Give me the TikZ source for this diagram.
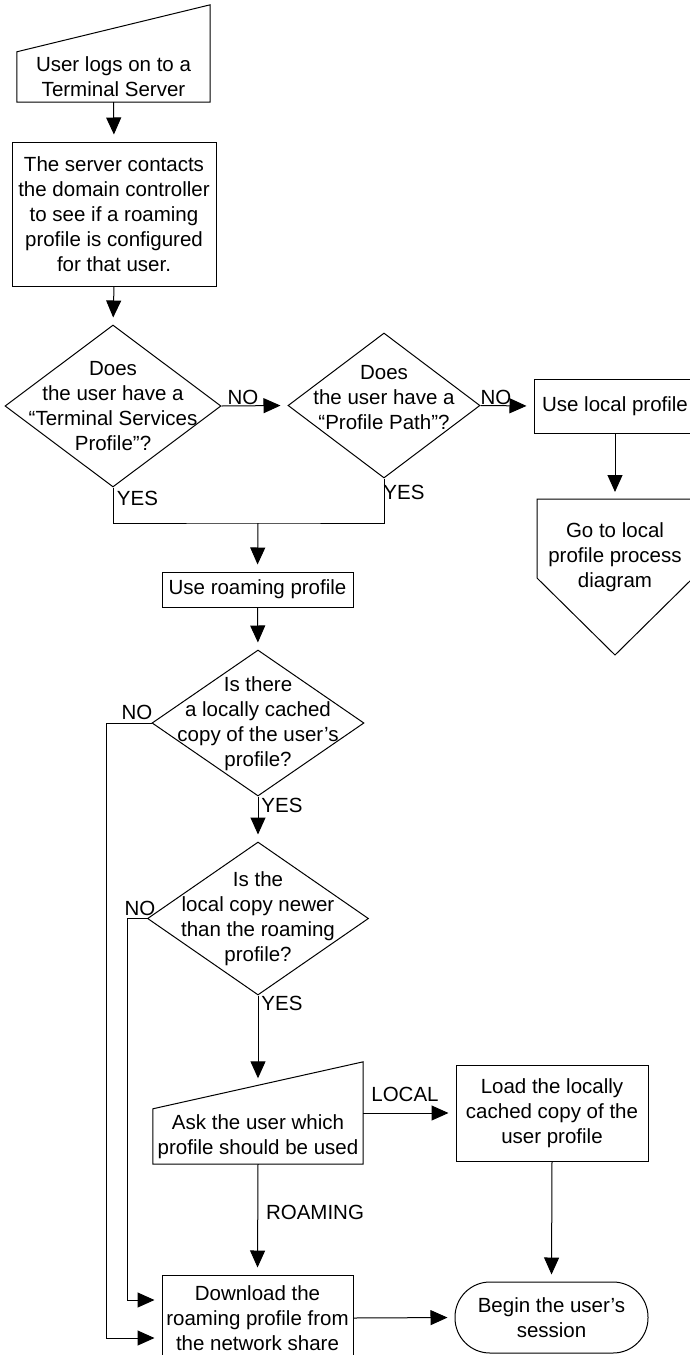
\documentclass[tikz,border=0pt]{standalone}
\usepackage{fontspec}
\setmainfont{Liberation Sans}
\usetikzlibrary{arrows.meta,shapes.geometric,calc}

\begin{document}
\begin{tikzpicture}[x=1pt,y=-1pt,
  every node/.style={font=\fontsize{20.5}{25}\selectfont, inner sep=0pt, align=center},
  box/.style={draw, rectangle, line width=1pt},
  decision/.style={draw, diamond, line width=1pt},
  terminal/.style={draw, rectangle, rounded corners=35pt, line width=1pt},
  outline/.style={draw, line width=1pt, line join=miter},
  flow/.style={line width=1pt, -{Triangle[length=17pt,width=15pt]}, shorten >=7pt},
  link/.style={line width=1pt},
  lbl/.style={}]

\useasboundingbox (0,0) rectangle (690,1355);
\clip (0,0) rectangle (690,1355);
\fill[white] (0,0) rectangle (690,1355);

% --- logon (manual input) and server check
\node[minimum width=193pt, minimum height=50pt] (logon) at (113.5,77) {User logs on to a\\Terminal Server};
\draw[outline] (logon.south west) -- (logon.south east) -- ($(logon.north east)+(0,-47)$) -- (logon.north west) -- cycle;

\node[box, minimum width=204pt, minimum height=144pt] (contact) at (114,214)
  {The server contacts\\the domain controller\\to see if a roaming\\profile is configured\\for that user.};

% --- profile decisions
\node[decision, minimum width=216pt, minimum height=162pt] (tsprof) at (113,406) {};
\node (tsproftext) at (113,406) {Does\\the user have a\\“Terminal Services\\Profile”?};

\node[decision, minimum width=192pt, minimum height=145pt] (ppath) at (384,405.5) {};
\node (ppathtext) at (384,398) {Does\\the user have a\\“Profile Path”?};

\node[box, minimum width=162pt, minimum height=54pt] (uselocal) at (615,406) {Use local profile};

% off-page connector
\node (gototext) at (615,557) {Go to local\\profile process\\diagram};
\coordinate (gotop) at (615,499);
\draw[outline] ($(gotop)+(-78,0)$) -- ($(gotop)+(78,0)$) -- ($(gotop)+(78,79)$)
  -- ($(gotop)+(0,156)$) -- ($(gotop)+(-78,79)$) -- cycle;

\coordinate (merge) at (258,523);
\node[box, minimum width=191pt, minimum height=35pt] (roaming) at (257.5,589.5) {Use roaming profile};

\node[decision, minimum width=212pt, minimum height=146pt] (cached) at (258,723) {};
\node (cachedtext) at (258,724) {Is there\\a locally cached\\copy of the user’s\\profile?};

\node[decision, minimum width=221pt, minimum height=153pt] (newer) at (258,918.5) {};
\node (newertext) at (258,918.5) {Is the\\local copy newer\\than the roaming\\profile?};

% --- ask the user (manual input)
\node[minimum width=210pt, minimum height=55pt] (ask) at (258,1136.5) {Ask the user which\\profile should be used};
\draw[outline] (ask.south west) -- (ask.south east) -- ($(ask.north east)+(0,-47)$) -- (ask.north west) -- cycle;
\coordinate (asktop) at ($(ask.north)+(0,-23.5)$);

\node[box, minimum width=192pt, minimum height=96pt] (load) at (552,1113)
  {Load the locally\\cached copy of the\\user profile};
\node[box, minimum width=191pt, minimum height=86pt] (download) at (257.5,1318)
  {Download the\\roaming profile from\\the network share};
\node[terminal, minimum width=193pt, minimum height=71pt] (begin) at (551.5,1317.5)
  {Begin the user’s\\session};

% --- connectors
\draw[flow] (logon.south) -- (contact.north);
\draw[flow] (contact.south) -- (tsprof.north);
\draw[flow] (tsprof.east) -- (ppath.west);
\draw[flow] (ppath.east) -- (uselocal.west);
\draw[flow] (uselocal.south) -- (gotop);
\draw[link] (tsprof.south) |- (merge) -| (ppath.south);
\draw[flow] (merge) -- (roaming.north);
\draw[flow] (roaming.south) -- (cached.north);
\draw[flow] (cached.south) -- (newer.north);
\draw[flow] (cached.west) -- ++(-45,0) |- ($(download.west)+(0,20)$);
\draw[flow] (newer.west) -- ++(-20,0) |- ($(download.west)+(0,-18)$);
\draw[flow] (newer.south) -- (asktop);
\draw[flow] (ask.east |- load.west) -- (load.west);
\draw[flow] (ask.south) -- (download.north);
\draw[flow] (load.south) -- (begin.north);
\draw[flow] (download.east) -- (begin.west);

% --- connector labels
\node[lbl] (no1) at (243,397) {NO};
\node[lbl] (no2) at (496,397) {NO};
\node[lbl] (yes1) at (137.5,498) {YES};
\node[lbl] (yes2) at (404,492) {YES};
\node[lbl] (no3) at (137,712) {NO};
\node[lbl] (yes3) at (282,805) {YES};
\node[lbl] (no4) at (140,908) {NO};
\node[lbl] (yes4) at (282,1003) {YES};
\node[lbl] (local) at (405,1094) {LOCAL};
\node[lbl] (roam) at (315,1212) {ROAMING};
\end{tikzpicture}
\end{document}
